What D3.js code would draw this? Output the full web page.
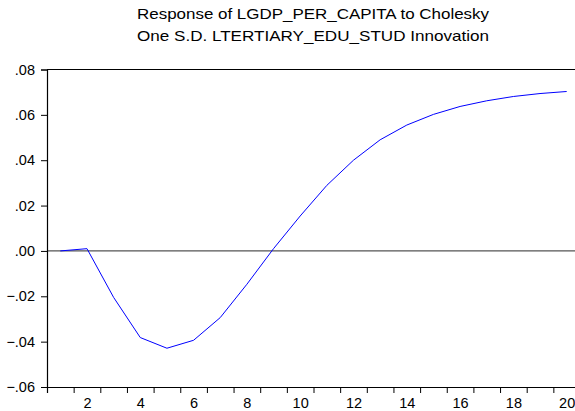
<!DOCTYPE html>
<html>
<head>
<meta charset="utf-8">
<script src="https://cdn.jsdelivr.net/npm/d3@7"></script>
<style>
  body { margin: 0; background: #fff; }
  svg { display: block; }
  svg text { font-family: Arial, "Liberation Sans", sans-serif; }
</style>
</head>
<body>
<div class="chart-container"></div>
<script>
// title lines
var titleLines = ["Response of LGDP_PER_CAPITA to Cholesky", "One S.D. LTERTIARY_EDU_STUD Innovation"]

// periods and responses
var periods = d3.range(1, 21)
var response = [0.0000, 0.0010, -0.0205, -0.0382, -0.0429, -0.0394, -0.0294, -0.0147, 0.0010, 0.0154,
                0.0289, 0.0400, 0.0490, 0.0555, 0.0602, 0.0637, 0.0662, 0.0681, 0.0694, 0.0703]

// tick values
var yTicks = [-0.06, -0.04, -0.02, 0.00, 0.02, 0.04, 0.06, 0.08]
var xLabels = [2, 4, 6, 8, 10, 12, 14, 16, 18, 20]

var width = 575, height = 411
var plotLeft = 47, plotRight = 580, plotTop = 69.5, plotBottom = 387

var svg = d3.select(".chart-container").append("svg").attr("width", width).attr("height", height)

// scales
var x = d3.scaleLinear().domain([0.5, 20.5]).range([plotLeft, plotRight])
var y = d3.scaleLinear().domain([-0.06, 0.08]).range([plotBottom, plotTop])

// title (glyphs are a bit wider in the original, so stretch to its length)
svg.append("g").selectAll("text").data(titleLines).enter().append("text")
  .attr("x", 313).attr("y", (d, i) => 19 + i * 22)
  .attr("text-anchor", "middle").attr("font-size", 15).attr("fill", "#000")
  .attr("textLength", 352).attr("lengthAdjust", "spacingAndGlyphs")
  .text(d => d)

// frame top line
svg.append("line").attr("x1", plotLeft).attr("x2", plotRight).attr("y1", plotTop).attr("y2", plotTop)
  .attr("stroke", "#000").attr("stroke-width", 1.2)

// zero line
svg.append("line").attr("x1", plotLeft).attr("x2", plotRight).attr("y1", y(0)).attr("y2", y(0))
  .attr("stroke", "#555").attr("stroke-width", 1.2)

// y axis
var fmt = function(d) { return d3.format(".2f")(d).replace("0.", ".") }
var yAxis = svg.append("g").attr("transform", "translate(" + plotLeft + ",0)")
  .call(d3.axisLeft(y).tickValues(yTicks).tickFormat(fmt).tickSize(6).tickPadding(6))
yAxis.select(".domain").attr("stroke-width", 1.2)
yAxis.selectAll("text").attr("font-size", 14.5).attr("fill", "#000")

// x axis: tick marks between periods
var xBoundaries = d3.range(1.5, 20.5, 1)
var xAxis = svg.append("g").attr("transform", "translate(0," + plotBottom + ")")
  .call(d3.axisBottom(x).tickValues(xBoundaries).tickFormat("").tickSize(6).tickSizeOuter(6))
xAxis.select(".domain").attr("stroke-width", 1.2)

// x labels centred on the periods
var xLab = svg.append("g").attr("transform", "translate(0," + plotBottom + ")")
  .call(d3.axisBottom(x).tickValues(xLabels).tickSize(0).tickPadding(11))
xLab.select(".domain").remove()
xLab.selectAll("text").attr("font-size", 14.5).attr("fill", "#000")

// response line
var line = d3.line().x((d, i) => x(periods[i])).y(d => y(d))
svg.append("path").datum(response)
  .attr("d", line).attr("fill", "none").attr("stroke", "#0000ff").attr("stroke-width", 1)
</script>
</body>
</html>
